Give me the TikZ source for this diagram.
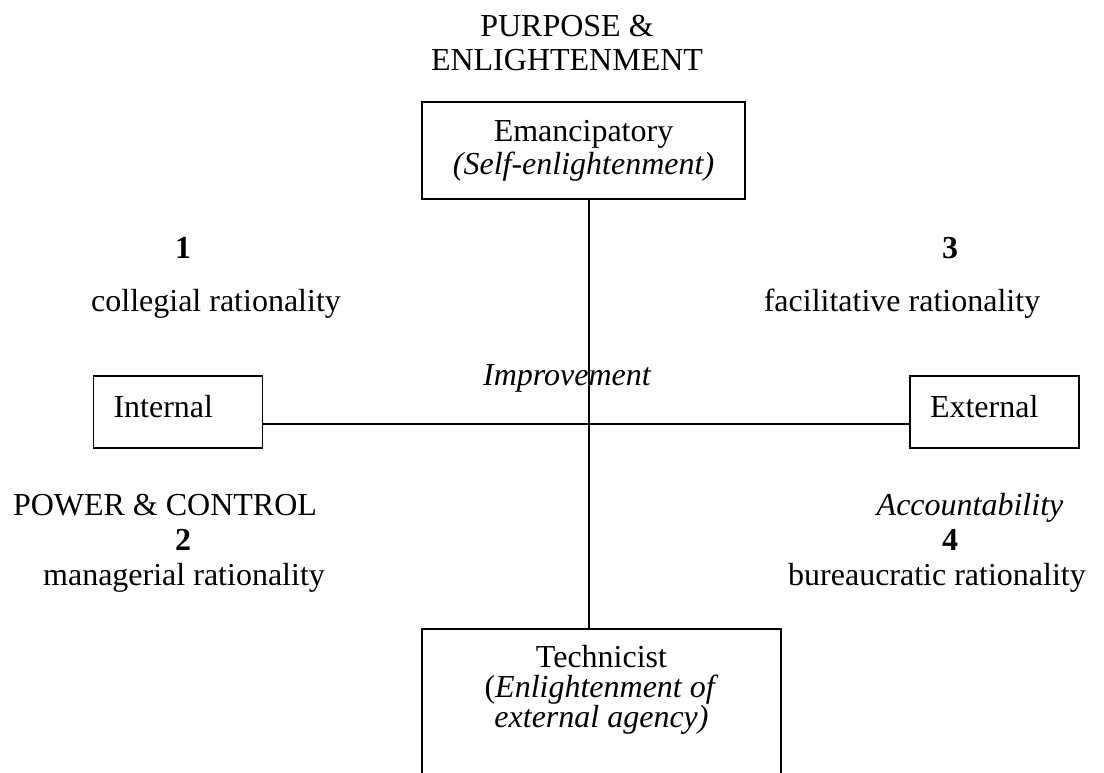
\documentclass[tikz,border=0pt]{standalone}
\usepackage{fontspec}
\setmainfont{Liberation Serif}
\usetikzlibrary{positioning}
\tikzset{
    every node/.style={font=\fontsize{32}{34}\selectfont},
    sidebox/.style={
        rectangle,
        draw=black, line width=1.6pt,
        text width=129pt,
        inner xsep=20pt, inner ysep=0pt,
        minimum height=72pt,
        text height=22pt, text depth=12pt,
        align=left
    },
    endbox/.style={
        rectangle,
        draw=black, line width=1.6pt,
        align=center
    },
    axisline/.style={draw, line width=1.6pt},
    txt/.style={inner sep=0pt, anchor=base},
    quadnum/.style={txt, font=\fontsize{32}{34}\selectfont\bfseries}
}

\begin{document}
\begin{tikzpicture}[x=1pt, y=-1pt]
    \useasboundingbox (0,0) rectangle (1104,772);
    \coordinate (cross) at (589,424);
    % the four boxes on the axes
    \node[endbox, minimum width=323pt, minimum height=97pt, font=\fontsize{32}{33}\selectfont] (emanc) at (583.5,150.5) {Emancipatory\\\textit{(Self-enlightenment)}};
    \node[endbox, anchor=north, minimum width=359pt, minimum height=200pt] (techbox) at (601.5,628) {};
    \node[txt, anchor=north, align=center, font=\fontsize{32}{30}\selectfont] (techtext) at (601.5,645) {Technicist\\(\textit{Enlightenment of}\\\textit{external agency)}};
    \node[sidebox] (internal) at (178,412) {Internal};
    \node[sidebox] (external) at (994.5,412) {External};
    \draw[axisline] (emanc.south -| cross) -- (techbox.north -| cross);
    \draw[axisline] (internal.east |- cross) -- (external.west |- cross);
    % headings and quadrants
    \node[txt, anchor=north, align=center] (purpose) at (567,15.5) {PURPOSE \&\\ENLIGHTENMENT};
    \node[txt, font=\fontsize{32}{34}\selectfont\itshape] (improve) at (567,385) {Improvement};
    \node[quadnum] (one) at (183,258) {1};
    \node[txt] (collegial) at (216,311) {collegial rationality};
    \node[quadnum] (three) at (950,258) {3};
    \node[txt] (facil) at (902,311) {facilitative rationality};
    \node[txt] (power) at (165,515) {POWER \& CONTROL};
    \node[quadnum] (two) at (183,550) {2};
    \node[txt] (managerial) at (184,585) {managerial rationality};
    \node[txt, font=\fontsize{32}{34}\selectfont\itshape] (account) at (970,515) {Accountability};
    \node[quadnum] (four) at (950,550) {4};
    \node[txt] (bureau) at (937,585) {bureaucratic rationality};
\end{tikzpicture}
\end{document}
